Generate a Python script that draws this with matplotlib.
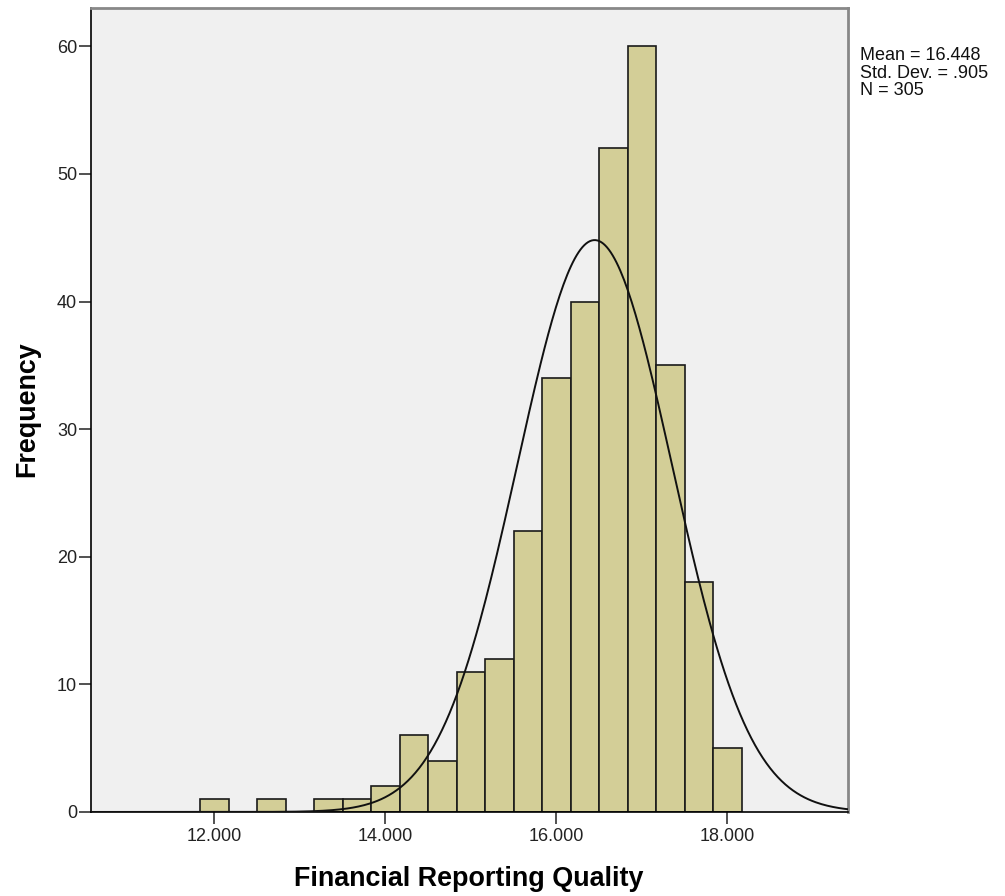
import numpy as np
import matplotlib.pyplot as plt
from matplotlib.ticker import FormatStrFormatter

plt.rcParams['font.family'] = ['Liberation Sans', 'DejaVu Sans']

# Histogram of Financial Reporting Quality (bin width 1/3)
bin_start = 11.835
bin_width = 1 / 3
counts = [1, 0, 1, 0, 1, 1, 2, 6, 4, 11, 12, 22, 34, 40, 52, 60, 35, 18, 5]
mean = 16.448
std_dev = 0.905
n_obs = 305

edges = bin_start + bin_width * np.arange(len(counts) + 1)

fig = plt.figure(figsize=(10.05, 8.96), dpi=100)
ax = fig.add_axes([0.0905, 0.0938, 0.7533, 0.8972])
ax.set_facecolor('#f0f0f0')

ax.bar(edges[:-1], counts, width=bin_width, align='edge',
       color='#d3ce97', edgecolor='#1a1a1a', linewidth=1.2, zorder=2)

# normal curve scaled to counts
xs = np.linspace(10.56, 19.41, 400)
ys = n_obs * bin_width * np.exp(-0.5 * ((xs - mean) / std_dev) ** 2) / (std_dev * np.sqrt(2 * np.pi))
ax.plot(xs, ys, color='#111111', linewidth=1.4, zorder=3)

ax.set_xlim(10.56, 19.41)
ax.set_ylim(0, 63)
ax.set_xticks([12, 14, 16, 18])
ax.xaxis.set_major_formatter(FormatStrFormatter('%.3f'))
ax.set_yticks(range(0, 61, 10))
ax.tick_params(axis='both', labelsize=13, length=8.5, width=1.2, color='#333333',
               labelcolor='#222222')
ax.tick_params(axis='x', pad=3)
ax.tick_params(axis='y', pad=1.5)

for side in ['top', 'right']:
    ax.spines[side].set_color('#888888')
    ax.spines[side].set_linewidth(2)
for side in ['left', 'bottom']:
    ax.spines[side].set_color('#000000')
    ax.spines[side].set_linewidth(1.2)

fig.text(0.4667, 1 - 879 / 896, 'Financial Reporting Quality', fontsize=19.4,
         fontweight='bold', ha='center', va='center')
fig.text(27 / 1005, 1 - 409 / 896, 'Frequency', fontsize=19.4,
         fontweight='bold', ha='center', va='center', rotation=90)

fig.text(0.856, 0.947, f'Mean = {mean:.3f}\nStd. Dev. = .905\nN = {n_obs}',
         fontsize=13, va='top', ha='left', linespacing=1.02, color='#111111')

fig.savefig('out.png', dpi=100)
